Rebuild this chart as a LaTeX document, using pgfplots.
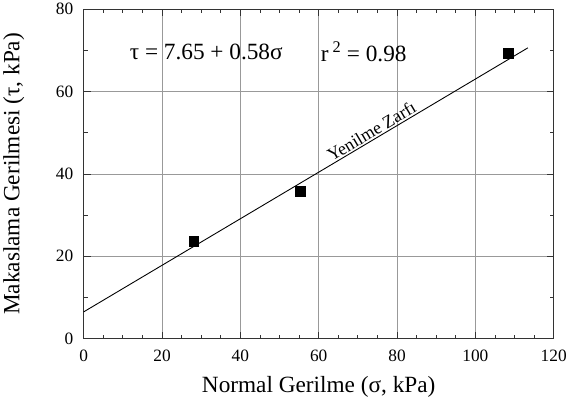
\documentclass[border=0pt]{standalone}
\usepackage{pgfplots}
\pgfplotsset{compat=1.18}
\usepackage{fontspec}
\setmainfont{Liberation Serif}
\begin{document}
\begin{tikzpicture}[x=1pt,y=1pt]
\begin{axis}[
  scale only axis,
  width=475pt, height=333pt,
  xmin=0, xmax=120, ymin=0, ymax=80,
  xtick={0,20,...,120}, ytick={0,20,...,80},
  minor x tick num=3, minor y tick num=1,
  tick align=inside,
  major tick length=7pt, minor tick length=4pt,
  grid=major,
  major grid style={gray!80, line width=0.8pt},
  axis line style={line width=1pt, black!80},
  every tick/.style={black!80, line width=0.8pt},
  /pgf/number format/assume math mode=true,
  ticklabel style={font=\fontsize{17.5}{17.5}\selectfont},
  xticklabel style={yshift=-8pt},
  yticklabel style={xshift=-7pt},
  xlabel={Normal Gerilme (σ, kPa)},
  ylabel={Makaslama Gerilmesi (τ, kPa)},
  label style={font=\fontsize{23.5}{23.5}\selectfont},
  xlabel style={yshift=-8pt},
  ylabel style={yshift=25pt},
  clip=false,
]
\addplot[only marks, mark=square*, mark size=5pt, black] coordinates {
  (28.1,23.6) (55.2,35.8) (108.3,69.4)
};
\addplot[black, line width=0.9pt] coordinates {(0,6.5) (113.4,70.6)};
\node[font=\fontsize{23.5}{23.5}\selectfont] at (axis cs:31.3,69.6) {τ = 7.65 + 0.58σ};
\node[font=\fontsize{23.5}{23.5}\selectfont] at (axis cs:71.5,69.6) {r\,\textsuperscript{2} = 0.98};
\node[font=\fontsize{18}{18}\selectfont, rotate=30.7, anchor=south, inner sep=2pt] at (axis cs:74.6,48.6) {Yenilme Zarfı};
\end{axis}
\end{tikzpicture}
\end{document}
